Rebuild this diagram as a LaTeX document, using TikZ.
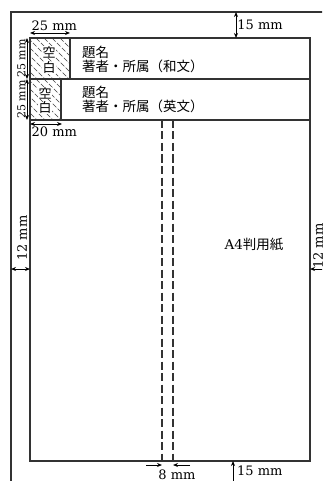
\documentclass[tikz,border=0pt]{standalone}
\usepackage{fontspec}
\setmainfont{DejaVu Serif}
\newfontfamily\jpfont{Noto Sans CJK JP}
\usetikzlibrary{arrows.meta,positioning}

\begin{document}
\begin{tikzpicture}[x=1pt,y=-1pt,>={Stealth[length=5pt,width=4pt]},
        page/.style={draw=black!80,line width=1.1pt},
        frame/.style={draw=black!80,line width=1.4pt},
        hatch/.style={draw=black!75,line width=0.7pt,dash pattern=on 5pt off 2pt},
        fold/.style={draw=black!80,line width=1.1pt,dash pattern=on 8pt off 3.5pt},
        dim/.style={<->,line width=0.9pt},
        arr/.style={->,line width=0.9pt},
        mm/.style={font=\fontsize{13}{13}\selectfont,inner sep=1pt},
        mmside/.style={font=\fontsize{11}{11}\selectfont,inner sep=1pt},
        jp/.style={font=\jpfont\fontsize{13.5}{14}\selectfont,inner sep=0pt,align=left,anchor=west},
        blank/.style={font=\jpfont\fontsize{13}{13}\selectfont,fill=white,inner sep=0.3pt}]
        \useasboundingbox (0,0) rectangle (322,481);
        \clip (0,0) rectangle (322,481);

        % sheet and text area
        \coordinate (p0) at (11,12);
        \coordinate (p1) at (329,487);
        \coordinate (f0) at (30,38);
        \coordinate (f1) at (310,461);
        \draw[page] (p0) rectangle (p1);

        % blank boxes
        \begin{scope}
          \clip (30,38) rectangle (70,79);
          \foreach \i in {-44,-36,...,72} \draw[hatch] (\i,38) -- ++(45,45);
        \end{scope}
        \begin{scope}
          \clip (30,79) rectangle (61,120);
          \foreach \i in {-44,-36,...,64} \draw[hatch] (\i,79) -- ++(45,45);
        \end{scope}
        \node[blank] (k1) at (49,52) {空};
        \node[blank] (k2) at (49,68) {白};
        \node[blank] (k3) at (45,93) {空};
        \node[blank] (k4) at (45,108) {白};

        \draw[frame] (f0) rectangle (f1);
        \draw[frame] (30,79) -- (310,79);
        \draw[frame] (30,120) -- (310,120);
        \draw[frame] (70,38) -- (70,79);
        \draw[frame] (61,79) -- (61,120);

        % titles
        \node[jp] (t1) at (82,59) {題名\\著者・所属（和文）};
        \node[jp] (t2) at (82,99) {題名\\著者・所属（英文）};
        \node[font=\fontsize{13.5}{13.5}\selectfont] (a4) at (254,245) {A4\jpfont 判用紙};

        % fold lines
        \coordinate (d1) at (162,120);
        \coordinate (d2) at (162,461);
        \coordinate (d3) at (173,120);
        \coordinate (d4) at (173,461);
        \draw[fold] (d1) -- (d2);
        \draw[fold] (d3) -- (d4);

        % dimensions
        \coordinate (w1) at (30,33);
        \coordinate (w2) at (70,33);
        \draw[dim] (w1) -- (w2);
        \node[mm, above right=1pt and 0.5pt of w1] (l25) {25 mm};

        \coordinate (u1) at (236,12);
        \coordinate (u2) at (236,38);
        \draw[dim] (u1) -- (u2) node[midway,right,mm] (l15a) {15 mm};

        \coordinate (v1) at (27,38);
        \coordinate (v2) at (27,79);
        \coordinate (v3) at (27,120);
        \draw[dim] (v1) -- (v2) node[midway,above,rotate=90,mmside] (l25b) {25 mm};
        \draw[dim] (v2) -- (v3) node[midway,above,rotate=90,mmside] (l25c) {25 mm};

        \coordinate (s1) at (30,124);
        \coordinate (s2) at (62,124);
        \draw[dim] (s1) -- (s2);
        \node[mm, below right=2pt and 0.5pt of s1] (l20) {20 mm};

        \coordinate (m1) at (11,269);
        \coordinate (m2) at (30,269);
        \draw[dim] (m1) -- (m2);
        \node[mm,rotate=90] (l12a) at (22,238) {12 mm};

        \coordinate (n1) at (310,269);
        \coordinate (n2) at (329,269);
        \draw[dim] (n1) -- (n2);
        \node[mm,rotate=90] (l12b) at (318,246) {12 mm};

        \coordinate (e1) at (146,465);
        \coordinate (e2) at (162,465);
        \coordinate (e3) at (190,465);
        \coordinate (e4) at (173,465);
        \draw[arr] (e1) -- (e2);
        \draw[arr] (e3) -- (e4);
        \node[mm] (l8) at (177,475) {8 mm};

        \coordinate (b1) at (233,461);
        \coordinate (b2) at (233,487);
        \draw[dim] (b1) -- (b2);
        \node[mm,anchor=west] (l15b) at (236,471) {15 mm};
\end{tikzpicture}
\end{document}
